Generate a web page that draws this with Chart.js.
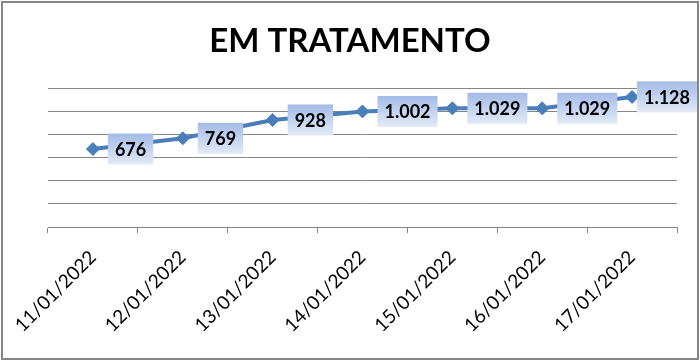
<!DOCTYPE html>
<html>
<head>
<meta charset="utf-8">
<script src="https://cdn.jsdelivr.net/npm/chart.js@4/dist/chart.umd.min.js"></script>
<style>
html,body{margin:0;padding:0;background:#fff;}
#wrap{width:700px;height:361px;position:relative;}
</style>
</head>
<body>
<div id="wrap"><canvas id="c" width="700" height="361"></canvas></div>
<script>
const categories = ["11/01/2022","12/01/2022","13/01/2022","14/01/2022","15/01/2022","16/01/2022","17/01/2022"];
const emTratamento = [676, 769, 928, 1002, 1029, 1029, 1128];
const valueLabels = ["676","769","928","1.002","1.029","1.029","1.128"];
const titleText = "EM TRATAMENTO";

const frame = {
  id: 'frame',
  beforeDraw(chart) {
    const ctx = chart.ctx;
    ctx.save();
    ctx.fillStyle = '#ffffff';
    ctx.fillRect(0, 0, chart.width, chart.height);
    ctx.restore();
  },
  afterDraw(chart) {
    const ctx = chart.ctx;
    ctx.save();
    ctx.strokeStyle = '#868686';
    ctx.lineWidth = 2;
    ctx.strokeRect(2, 2, chart.width - 4, chart.height - 4);
    ctx.restore();
  }
};

const boxLabels = {
  id: 'boxLabels',
  afterDatasetsDraw(chart) {
    const ctx = chart.ctx;
    const meta = chart.getDatasetMeta(0);
    ctx.save();
    ctx.font = 'bold 18px Lato';
    ctx.textBaseline = 'middle';
    ctx.textAlign = 'left';
    meta.data.forEach((pt, i) => {
      const txt = valueLabels[i];
      const tw = ctx.measureText(txt).width;
      const w = tw + 14, h = 31;
      let x0 = pt.x + 15;
      if (x0 + w > chart.width - 3) x0 = chart.width - 3 - w;
      const y0 = pt.y - h / 2;
      const g = ctx.createLinearGradient(0, y0, 0, y0 + h);
      g.addColorStop(0, '#a3bbe7');
      g.addColorStop(1, '#e3eaf7');
      ctx.fillStyle = g;
      ctx.fillRect(x0, y0, w, h);
      ctx.fillStyle = '#000000';
      ctx.fillText(txt, x0 + 7, pt.y + 1);
    });
    ctx.restore();
  }
};

new Chart(document.getElementById('c'), {
  type: 'line',
  data: {
    labels: categories,
    datasets: [{
      data: emTratamento,
      borderColor: '#4a7ebb',
      backgroundColor: '#4a7ebb',
      borderWidth: 4,
      pointStyle: 'rectRot',
      pointRadius: 6.5,
      pointHoverRadius: 6.5,
      pointBackgroundColor: '#4a7ebb',
      pointBorderColor: '#4a7ebb',
      pointBorderWidth: 1,
      tension: 0,
      clip: false
    }]
  },
  options: {
    responsive: false,
    animation: false,
    devicePixelRatio: 1,
    layout: { padding: { left: 0, right: 0, top: 0, bottom: 0 } },
    plugins: {
      legend: { display: false },
      tooltip: { enabled: false },
      title: {
        display: true,
        text: titleText,
        color: '#000000',
        font: { family: 'Lato', size: 33, weight: 'bold', lineHeight: 1.2 },
        padding: { top: 22, bottom: 27 }
      }
    },
    scales: {
      x: {
        offset: true,
        grid: { display: true, drawOnChartArea: false, offset: true, tickLength: 6, color: '#868686', lineWidth: 1 },
        border: { display: true, color: '#868686', width: 1 },
        ticks: { minRotation: 45, maxRotation: 45, autoSkip: false, color: '#000000', padding: 13,
                 font: { family: 'Lato', size: 19 } },
        afterFit(s) { s.height = 134; }
      },
      y: {
        min: 0, max: 1200,
        ticks: { display: false, stepSize: 200 },
        grid: { color: '#868686', lineWidth: 1, drawTicks: false },
        border: { display: false },
        afterFit(s) { s.width = 48; }
      },
      yr: {
        position: 'right',
        min: 0, max: 1200,
        ticks: { display: false },
        grid: { display: false, drawTicks: false },
        border: { display: false },
        afterFit(s) { s.width = 23; }
      }
    }
  },
  plugins: [frame, boxLabels]
});
</script>
</body>
</html>
